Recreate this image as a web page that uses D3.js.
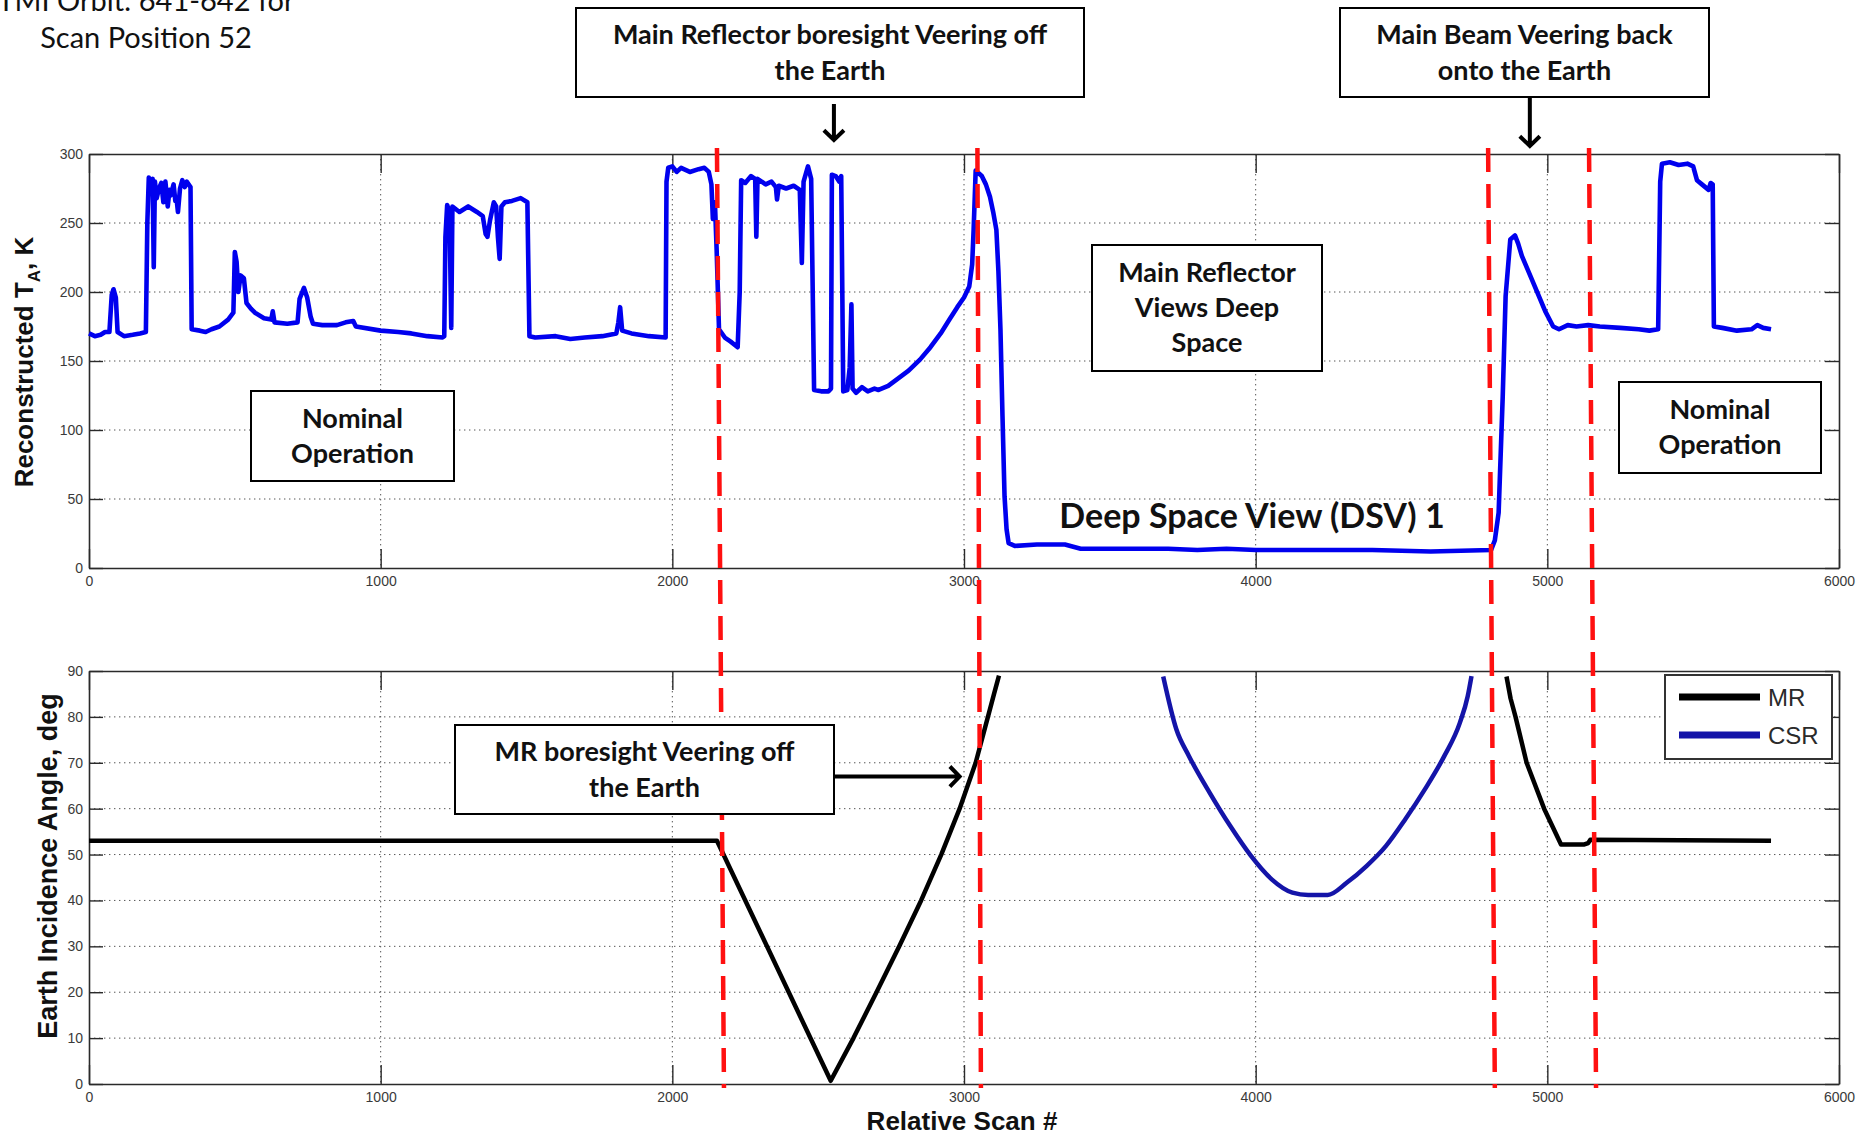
<!DOCTYPE html>
<html>
<head>
<meta charset="utf-8">
<script src="https://cdn.jsdelivr.net/npm/d3@7"></script>
<style>
  html, body { margin: 0; padding: 0; background: #fff; }
  svg { display: block; }
</style>
</head>
<body>
<svg id="chart" width="1860" height="1137"></svg>
<script>
// ---- data ---------------------------------------------------------------
const scanTicks = [0, 1000, 2000, 3000, 4000, 5000, 6000];
const taTicks = [0, 50, 100, 150, 200, 250, 300];
const eiaTicks = [0, 10, 20, 30, 40, 50, 60, 70, 80, 90];

// Reconstructed antenna temperature (K) vs relative scan number
const taScan = [0, 20, 40, 55, 70, 78, 84, 92, 98, 120, 150, 175, 195, 200, 205, 210, 214, 218, 222, 226, 232, 240, 248, 255, 262, 270, 276, 280, 290, 296, 300, 305, 312, 320, 328, 335, 348, 352, 380, 400, 420, 447, 477, 495, 500, 506, 512, 520, 531, 540, 555, 569, 600, 625, 630, 636, 680, 715, 722, 737, 748, 760, 768, 800, 850, 880, 906, 915, 1000, 1060, 1105, 1160, 1212, 1218, 1222, 1228, 1236, 1242, 1246, 1270, 1300, 1330, 1350, 1360, 1366, 1375, 1388, 1396, 1402, 1408, 1414, 1426, 1450, 1480, 1503, 1510, 1530, 1600, 1650, 1700, 1760, 1808, 1815, 1821, 1828, 1860, 1920, 1977, 1980, 1986, 2000, 2015, 2030, 2060, 2090, 2110, 2125, 2134, 2139, 2146, 2152, 2160, 2180, 2200, 2224, 2231, 2236, 2250, 2270, 2284, 2288, 2292, 2320, 2340, 2355, 2359, 2365, 2390, 2416, 2437, 2444, 2450, 2465, 2476, 2486, 2510, 2535, 2544, 2547, 2560, 2572, 2579, 2586, 2600, 2608, 2614, 2618, 2630, 2650, 2670, 2693, 2707, 2740, 2778, 2810, 2849, 2885, 2920, 2950, 2977, 3000, 3018, 3028, 3033, 3040, 3061, 3075, 3089, 3100, 3111, 3118, 3125, 3132, 3139, 3146, 3153, 3174, 3250, 3346, 3400, 3500, 3600, 3700, 3800, 3900, 4000, 4200, 4400, 4600, 4807, 4820, 4833, 4847, 4857, 4873, 4889, 4900, 4913, 4953, 4993, 5020, 5040, 5070, 5100, 5140, 5180, 5250, 5313, 5350, 5380, 5387, 5393, 5420, 5450, 5480, 5500, 5513, 5530, 5553, 5560, 5567, 5571, 5600, 5650, 5700, 5720, 5740, 5767];
const taValue = [170, 168, 169, 171, 171, 198, 202, 196, 171, 168, 169, 170, 171, 250, 283, 276, 281, 282, 218, 280, 268, 275, 279, 265, 280, 262, 274, 270, 278, 266, 268, 258, 275, 281, 276, 280, 276, 173, 172, 171, 173, 175, 180, 185, 229, 222, 200, 212, 210, 192, 188, 185, 181, 180, 186, 178, 177, 178, 195, 203, 196, 182, 177, 176, 176, 178, 179, 175, 172, 171, 170, 168, 167, 168, 240, 263, 258, 174, 262, 258, 262, 258, 255, 242, 240, 252, 265, 262, 240, 224, 262, 265, 266, 268, 265, 168, 167, 168, 166, 167, 168, 170, 178, 189, 172, 170, 168, 167, 280, 290, 291, 287, 290, 287, 289, 290, 287, 278, 253, 265, 230, 173, 167, 164, 160, 200, 281, 279, 284, 282, 240, 282, 278, 280, 276, 267, 277, 275, 277, 274, 221, 280, 291, 282, 129, 128, 128, 130, 285, 284, 280, 284, 128, 129, 145, 191, 130, 127, 131, 128, 130, 129, 132, 138, 143, 151, 160, 170, 180, 189, 196, 204, 220, 245, 288, 284, 278, 269, 258, 245, 215, 173, 110, 52, 28, 18, 16, 17, 17, 14, 14, 14, 14, 13, 14, 13, 13, 13, 12, 13, 20, 40, 124, 197, 238, 241, 235, 226, 206, 186, 175, 173, 176, 175, 176, 175, 174, 173, 172, 173, 280, 293, 294, 292, 293, 291, 281, 278, 274, 279, 278, 175, 174, 172, 173, 176, 174, 173];

// Earth incidence angle (deg) of the main reflector boresight (null = off the Earth)
const mrScan = [0, 2153, 2543, 2621, 2700, 2778, 2853, 2922, 2985, 3040, 3082, 3103, 3120, 3121, 4860, 4874, 4891, 4929, 4989, 5047, 5127, 5140, 5147, 5767];
const mrAngle = [53, 53, 0.7, 10, 20, 30, 40, 50, 60, 70, 80, 85, 89, null, 88.8, 84, 80, 70, 60, 52.2, 52.2, 52.5, 53.2, 53];

// Earth incidence angle (deg) of the cold sky reflector
const csrScan = [3683, 3728, 3771, 3842, 3913, 3984, 4055, 4126, 4180, 4247, 4313, 4380, 4447, 4513, 4580, 4647, 4700, 4727, 4740];
const csrAngle = [88.8, 77.3, 71.5, 63.5, 56.2, 49.7, 44.6, 41.7, 41.2, 41.2, 43.9, 47.5, 51.9, 57.7, 64.2, 71.5, 78.7, 84.5, 88.9];

// Event boundaries (scan #) at the top and bottom end of each dashed marker
const eventScanTop = [2153, 3046, 4797, 5143];
const eventScanBottom = [2177, 3058, 4820, 5167];

const seriesNames = ["MR", "CSR"];

// ---- layout ------------------------------------------------------------
const svg = d3.select("#chart");
const W = 1860, H = 1137;
const left = 89, right = 1839;
const top1 = 154, bottom1 = 568;
const top2 = 671, bottom2 = 1084;

const BLUE = "#0000ee";
const CSR_BLUE = "#1414a8";
const RED = "#ff1010";
const TICK_FONT = "'Liberation Sans', Arial, sans-serif";
const NOTE_FONT = "Lato, 'Open Sans', sans-serif";

svg.append("rect").attr("width", W).attr("height", H).attr("fill", "#fff");

const x = d3.scaleLinear().domain([0, 6000]).range([left, right]);
const yTA = d3.scaleLinear().domain([0, 300]).range([bottom1, top1]);
const yEIA = d3.scaleLinear().domain([0, 90]).range([bottom2, top2]);

function panel(yScale, yTicks, yTop, yBottom) {
  const g = svg.append("g");
  // dotted grid
  g.append("g").selectAll("line").data(scanTicks.slice(1, -1)).join("line")
    .attr("x1", d => x(d)).attr("x2", d => x(d))
    .attr("y1", yTop).attr("y2", yBottom)
    .attr("stroke", "#555").attr("stroke-width", 1).attr("stroke-dasharray", "1.4,3.6");
  g.append("g").selectAll("line").data(yTicks.slice(1, -1)).join("line")
    .attr("x1", left).attr("x2", right)
    .attr("y1", d => yScale(d)).attr("y2", d => yScale(d))
    .attr("stroke", "#555").attr("stroke-width", 1).attr("stroke-dasharray", "1.4,3.6");

  // axes with inward ticks on all four sides
  const fmt = d3.format("d");
  const axL = d3.axisLeft(yScale).tickValues(yTicks).tickFormat(fmt).tickSizeInner(-14).tickSizeOuter(0).tickPadding(6);
  const axR = d3.axisRight(yScale).tickValues(yTicks).tickSizeInner(-14).tickSizeOuter(0).tickFormat("");
  const axB = d3.axisBottom(x).tickValues(scanTicks).tickFormat(fmt).tickSizeInner(-19).tickSizeOuter(0).tickPadding(8);
  const axT = d3.axisTop(x).tickValues(scanTicks).tickSizeInner(-19).tickSizeOuter(0).tickFormat("");
  [
    g.append("g").attr("transform", `translate(${left},0)`).call(axL),
    g.append("g").attr("transform", `translate(${right},0)`).call(axR),
    g.append("g").attr("transform", `translate(0,${yBottom})`).call(axB),
    g.append("g").attr("transform", `translate(0,${yTop})`).call(axT)
  ].forEach(a => {
    a.select(".domain").attr("stroke", "#2a2a2a").attr("stroke-width", 1.6);
    a.selectAll(".tick line").attr("stroke", "#2a2a2a").attr("stroke-width", 1.4);
    a.selectAll(".tick text").attr("font-family", TICK_FONT).attr("font-size", 14)
      .attr("fill", "#3a3a3a");
  });
  return g;
}

panel(yTA, taTicks, top1, bottom1);
panel(yEIA, eiaTicks, top2, bottom2);

// ---- series ------------------------------------------------------------
const taLine = d3.line().x(i => x(taScan[i])).y(i => yTA(taValue[i]));
svg.append("path").attr("d", taLine(d3.range(taScan.length)))
  .attr("fill", "none").attr("stroke", BLUE).attr("stroke-width", 4.6)
  .attr("stroke-linejoin", "round");

const mrLine = d3.line().defined(i => mrAngle[i] !== null)
  .x(i => x(mrScan[i])).y(i => yEIA(mrAngle[i]));
svg.append("path").attr("d", mrLine(d3.range(mrScan.length)))
  .attr("fill", "none").attr("stroke", "#000").attr("stroke-width", 4.5)
  .attr("stroke-linejoin", "round");

const csrLine = d3.line().curve(d3.curveMonotoneX)
  .x(i => x(csrScan[i])).y(i => yEIA(csrAngle[i]));
svg.append("path").attr("d", csrLine(d3.range(csrScan.length)))
  .attr("fill", "none").attr("stroke", CSR_BLUE).attr("stroke-width", 4.5);

// ---- event markers -----------------------------------------------------
svg.append("g").selectAll("line").data(eventScanTop).join("line")
  .attr("x1", d => x(d)).attr("x2", (d, i) => x(eventScanBottom[i]))
  .attr("y1", 148).attr("y2", 1088)
  .attr("stroke", RED).attr("stroke-width", 4.5).attr("stroke-dasharray", "24,12");

// ---- legend ------------------------------------------------------------
const lg = svg.append("g");
lg.append("rect").attr("x", 1665).attr("y", 675).attr("width", 167).attr("height", 84)
  .attr("fill", "#fff").attr("stroke", "#333").attr("stroke-width", 2);
seriesNames.forEach((name, i) => {
  const yy = 697 + i * 38;
  lg.append("line").attr("x1", 1679).attr("x2", 1760).attr("y1", yy).attr("y2", yy)
    .attr("stroke", i === 0 ? "#000" : CSR_BLUE).attr("stroke-width", 7);
  lg.append("text").attr("x", 1768).attr("y", yy + 9).text(name)
    .attr("font-family", TICK_FONT).attr("font-size", 24).attr("fill", "#2a2a2a");
});

// ---- axis titles -------------------------------------------------------
const yTitle1 = svg.append("text").attr("transform", "translate(33,362) rotate(-90)")
  .attr("text-anchor", "middle").attr("font-family", TICK_FONT).attr("font-weight", "bold")
  .attr("font-size", 26).attr("fill", "#111");
yTitle1.append("tspan").text("Reconstructed T");
yTitle1.append("tspan").text("A").attr("font-size", 17).attr("dy", 7);
yTitle1.append("tspan").text(", K").attr("dy", -7);

svg.append("text").attr("transform", "translate(57,866) rotate(-90)")
  .attr("text-anchor", "middle").attr("font-family", TICK_FONT).attr("font-weight", "bold")
  .attr("font-size", 27).attr("fill", "#111").text("Earth Incidence Angle, deg");

svg.append("text").attr("x", 962).attr("y", 1130).attr("text-anchor", "middle")
  .attr("font-family", TICK_FONT).attr("font-weight", "bold")
  .attr("font-size", 26).attr("fill", "#111").text("Relative Scan #");

// ---- annotations -------------------------------------------------------
svg.append("text").attr("x", 146).attr("y", 11).attr("text-anchor", "middle")
  .attr("font-family", NOTE_FONT).attr("font-size", 29).attr("fill", "#111")
  .text("TMI Orbit: 641-642 for");
svg.append("text").attr("x", 146).attr("y", 48).attr("text-anchor", "middle")
  .attr("font-family", NOTE_FONT).attr("font-size", 29).attr("fill", "#111")
  .text("Scan Position 52");

const notes = [
  { x0: 576, y0: 8, x1: 1084, y1: 97, lines: ["Main Reflector boresight Veering off", "the Earth"], lh: 36 },
  { x0: 1340, y0: 8, x1: 1709, y1: 97, lines: ["Main Beam Veering back", "onto the Earth"], lh: 36 },
  { x0: 251, y0: 391, x1: 454, y1: 481, lines: ["Nominal", "Operation"], lh: 35 },
  { x0: 1092, y0: 245, x1: 1322, y1: 371, lines: ["Main Reflector", "Views Deep", "Space"], lh: 35 },
  { x0: 1619, y0: 382, x1: 1821, y1: 473, lines: ["Nominal", "Operation"], lh: 35 },
  { x0: 455, y0: 725, x1: 834, y1: 814, lines: ["MR boresight Veering off", "the Earth"], lh: 36 }
];
const NOTE_SIZE = 27;
notes.forEach(n => {
  svg.append("rect").attr("x", n.x0).attr("y", n.y0)
    .attr("width", n.x1 - n.x0).attr("height", n.y1 - n.y0)
    .attr("fill", "#fff").attr("stroke", "#000").attr("stroke-width", 2);
  const cx = (n.x0 + n.x1) / 2, cy = (n.y0 + n.y1) / 2;
  const t = svg.append("text").attr("text-anchor", "middle")
    .attr("font-family", NOTE_FONT).attr("font-weight", "bold")
    .attr("font-size", NOTE_SIZE).attr("fill", "#111");
  n.lines.forEach((s, i) => {
    t.append("tspan").attr("x", cx)
      .attr("y", cy + (i - (n.lines.length - 1) / 2) * n.lh + NOTE_SIZE * 0.35).text(s);
  });
});

svg.append("text").attr("x", 1252).attr("y", 528).attr("text-anchor", "middle")
  .attr("font-family", NOTE_FONT).attr("font-weight", "bold")
  .attr("font-size", 34).attr("fill", "#111").text("Deep Space View (DSV) 1");

// arrows
function arrow(xa, ya, xb, yb) {
  const a = Math.atan2(yb - ya, xb - xa), h = 14, s = 0.8;
  const p = d3.path();
  p.moveTo(xa, ya); p.lineTo(xb, yb);
  p.moveTo(xb - h * Math.cos(a - s), yb - h * Math.sin(a - s));
  p.lineTo(xb, yb);
  p.lineTo(xb - h * Math.cos(a + s), yb - h * Math.sin(a + s));
  svg.append("path").attr("d", p.toString()).attr("fill", "none")
    .attr("stroke", "#000").attr("stroke-width", 4).attr("stroke-linecap", "butt");
}
arrow(x(2554), 104, x(2554), 140);
arrow(x(4940), 97, x(4940), 146);
arrow(834, yEIA(67), x(2985), yEIA(67));
</script>
</body>
</html>
